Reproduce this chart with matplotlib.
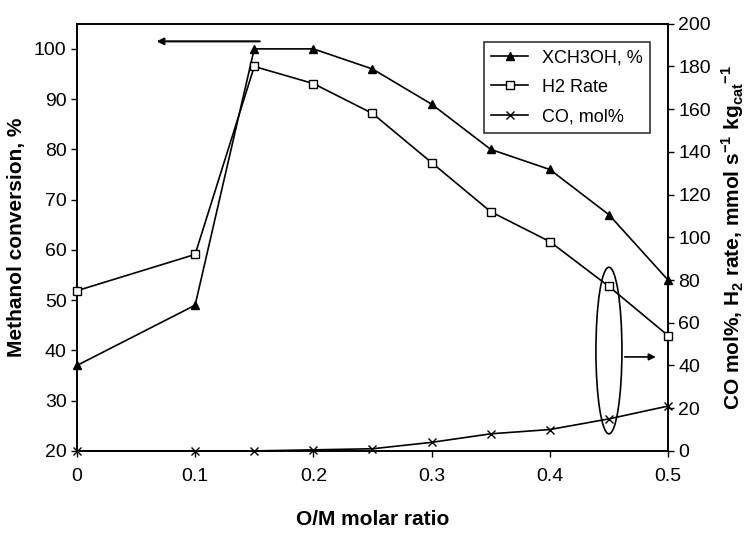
import matplotlib.pyplot as plt
from matplotlib.patches import Ellipse

plt.rcParams['font.family'] = ['Liberation Sans', 'DejaVu Sans']
plt.rcParams['mathtext.fontset'] = 'custom'
plt.rcParams['mathtext.rm'] = 'Liberation Sans:bold'
plt.rcParams['mathtext.bf'] = 'Liberation Sans:bold'

# O/M molar ratio
om_ratio = [0, 0.1, 0.15, 0.2, 0.25, 0.3, 0.35, 0.4, 0.45, 0.5]
# Methanol conversion, % (left axis)
x_ch3oh = [37, 49, 100, 100, 96, 89, 80, 76, 67, 54]
# H2 rate, mmol s-1 kgcat-1 (right axis)
h2_rate = [75, 92, 180, 172, 158, 135, 112, 98, 77, 54]
# CO mol% (right axis)
co_mol = [0, 0, 0, 0.5, 1, 4, 8, 10, 15, 21]

fig = plt.figure(figsize=(7.54, 5.4), dpi=100)
ax = fig.add_axes([0.102, 0.165, 0.784, 0.791])
ax2 = ax.twinx()

l1, = ax.plot(om_ratio, x_ch3oh, color='black', lw=1.2, marker='^', ms=6,
              mfc='black', label='XCH3OH, %', clip_on=False, zorder=3)
l2, = ax2.plot(om_ratio, h2_rate, color='black', lw=1.2, marker='s', ms=6,
               mfc='white', label='H2 Rate', clip_on=False, zorder=3)
l3, = ax2.plot(om_ratio, co_mol, color='black', lw=1.2, marker='x', ms=6,
               label='CO, mol%', clip_on=False, zorder=3)

ax.set_xlim(0, 0.5)
ax.set_ylim(20, 105)
ax2.set_ylim(0, 200)
ax.set_xticks([0, 0.1, 0.2, 0.3, 0.4, 0.5])
ax.set_xticklabels(['0', '0.1', '0.2', '0.3', '0.4', '0.5'])
ax.set_yticks(range(20, 101, 10))
ax2.set_yticks(range(0, 201, 20))
for a in (ax, ax2):
    a.tick_params(labelsize=14, length=4, width=1)
    for s in a.spines.values():
        s.set_linewidth(1.2)
ax.tick_params(axis='x', pad=8)

ax.set_xlabel('O/M molar ratio', fontsize=15, fontweight='bold', labelpad=18)
ax.set_ylabel('Methanol conversion, %', fontsize=15, fontweight='bold',
              labelpad=6)
ax2.set_ylabel(r'CO mol%, H$_2$ rate, mmol s$^{-1}$ kg$_{\mathrm{cat}}$$^{-1}$',
               fontsize=15, fontweight='bold', labelpad=6)

# arrow to left axis
ax.annotate('', xy=(0.065, 101.5), xytext=(0.157, 101.5),
            arrowprops=dict(arrowstyle='-|>', color='black', lw=1.5))
# ellipse and arrow to right axis
ax2.add_patch(Ellipse((0.45, 47), 0.022, 78, fill=False, ec='black', lw=1.2))
ax2.annotate('', xy=(0.492, 44), xytext=(0.461, 44),
             arrowprops=dict(arrowstyle='-|>', color='black', lw=1.2))

leg = ax2.legend(handles=[l1, l2, l3], loc='upper right', fontsize=13,
                 frameon=True, fancybox=False, edgecolor='black',
                 handlelength=2.0, labelspacing=0.7, borderaxespad=1.0)
leg.get_frame().set_linewidth(1.2)

fig.savefig('out.png', dpi=100)
